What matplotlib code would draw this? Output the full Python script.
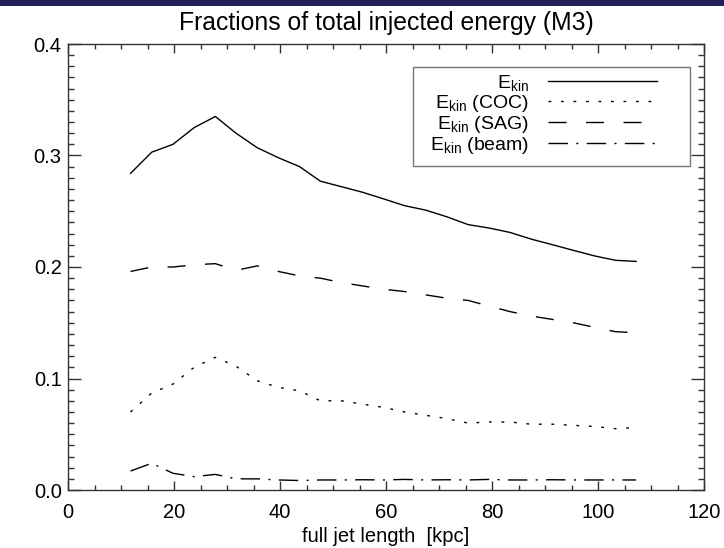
import numpy as np
import matplotlib
matplotlib.use('Agg')
import matplotlib.pyplot as plt
from matplotlib.patches import Rectangle
from matplotlib.ticker import MultipleLocator

plt.rcParams['font.family'] = ['Liberation Sans', 'DejaVu Sans']
plt.rcParams['mathtext.fontset'] = 'custom'
plt.rcParams['mathtext.rm'] = 'Liberation Sans'

# full jet length [kpc]
jet_length = [11.8, 15.8, 19.8, 23.8, 27.8, 31.7, 35.7, 39.7, 43.7, 47.6,
              51.6, 55.6, 59.6, 63.5, 67.5, 71.5, 75.5, 79.4, 83.4, 87.4,
              91.4, 95.3, 99.3, 103.3, 107.2]

# fractions of total injected energy
e_kin = [0.284, 0.303, 0.310, 0.325, 0.335, 0.320, 0.307, 0.298, 0.290, 0.277,
         0.272, 0.267, 0.261, 0.255, 0.251, 0.245, 0.238, 0.235, 0.231, 0.225,
         0.220, 0.215, 0.210, 0.206, 0.205]
e_kin_coc = [0.070, 0.087, 0.095, 0.110, 0.119, 0.111, 0.098, 0.092, 0.089, 0.080,
             0.080, 0.077, 0.074, 0.070, 0.067, 0.064, 0.060, 0.061, 0.061, 0.059,
             0.059, 0.058, 0.057, 0.055, 0.056]
e_kin_sag = [0.196, 0.200, 0.200, 0.202, 0.203, 0.197, 0.201, 0.196, 0.192, 0.190,
             0.186, 0.183, 0.180, 0.178, 0.175, 0.172, 0.170, 0.165, 0.160, 0.156,
             0.153, 0.150, 0.146, 0.142, 0.141]
e_kin_beam = [0.017, 0.024, 0.015, 0.012, 0.014, 0.010, 0.010, 0.009, 0.0085, 0.009,
              0.009, 0.0092, 0.009, 0.0095, 0.009, 0.0092, 0.009, 0.0095, 0.009, 0.009,
              0.0092, 0.009, 0.009, 0.009, 0.009]

labels = [r'$\mathregular{E_{kin}}$',
          r'$\mathregular{E_{kin}}$ (COC)',
          r'$\mathregular{E_{kin}}$ (SAG)',
          r'$\mathregular{E_{kin}}$ (beam)']

fig = plt.figure(figsize=(7.24, 5.48), dpi=100)
ax = fig.add_axes([68/724, 1 - 490/548, 636/724, 446/548])

# dark band at the top of the picture
fig.patches.append(Rectangle((0, 1 - 6/548), 1, 6/548, transform=fig.transFigure,
                             facecolor='#23215a', edgecolor='none'))

lw = 1.0
l1, = ax.plot(jet_length, e_kin, color='black', lw=lw, ls='-')
l2, = ax.plot(jet_length, e_kin_coc, color='black', lw=lw, dashes=(2, 7))
l3, = ax.plot(jet_length, e_kin_sag, color='black', lw=lw, dashes=(13, 14))
l4, = ax.plot(jet_length, e_kin_beam, color='black', lw=lw, dashes=(14, 6, 1.5, 6))

ax.set_xlim(0, 120)
ax.set_ylim(0, 0.4)
ax.xaxis.set_major_locator(MultipleLocator(20))
ax.xaxis.set_minor_locator(MultipleLocator(5))
ax.yaxis.set_major_locator(MultipleLocator(0.1))
ax.yaxis.set_minor_locator(MultipleLocator(0.01))
ax.yaxis.set_major_formatter(matplotlib.ticker.FormatStrFormatter('%.1f'))

ax.tick_params(axis='both', which='both', direction='in', top=True, right=True,
               colors='#333333', labelcolor='black', labelsize=14.5, width=1.0)
ax.tick_params(axis='x', which='major', length=6.5, pad=9)
ax.tick_params(axis='x', which='minor', length=3.3)
ax.tick_params(axis='y', which='major', length=9.5, pad=4.5)
ax.tick_params(axis='y', which='minor', length=4.5)
for sp in ax.spines.values():
    sp.set_color('#333333')
    sp.set_linewidth(1.0)

ax.set_title('Fractions of total injected energy (M3)', fontsize=17.8, pad=10)
ax.set_xlabel('full jet length  [kpc]', fontsize=14.5, labelpad=4)

# legend box
ax.add_patch(Rectangle(((413 - 68)/636, 1 - (166 - 44)/446), (690 - 413)/636, (166 - 67)/446,
                       transform=ax.transAxes, facecolor='white', edgecolor='#777777',
                       lw=1.0, zorder=4))
leg = ax.legend([l1, l2, l3, l4], labels, loc='upper right', markerfirst=False,
                bbox_to_anchor=((657 - 68)/636, 1 - (73 - 44)/446), borderaxespad=0,
                borderpad=0, frameon=False, fontsize=14, handlelength=5.6,
                handletextpad=1.0, labelspacing=0.0)
leg.set_zorder(5)

fig.savefig('out.png', dpi=100)
